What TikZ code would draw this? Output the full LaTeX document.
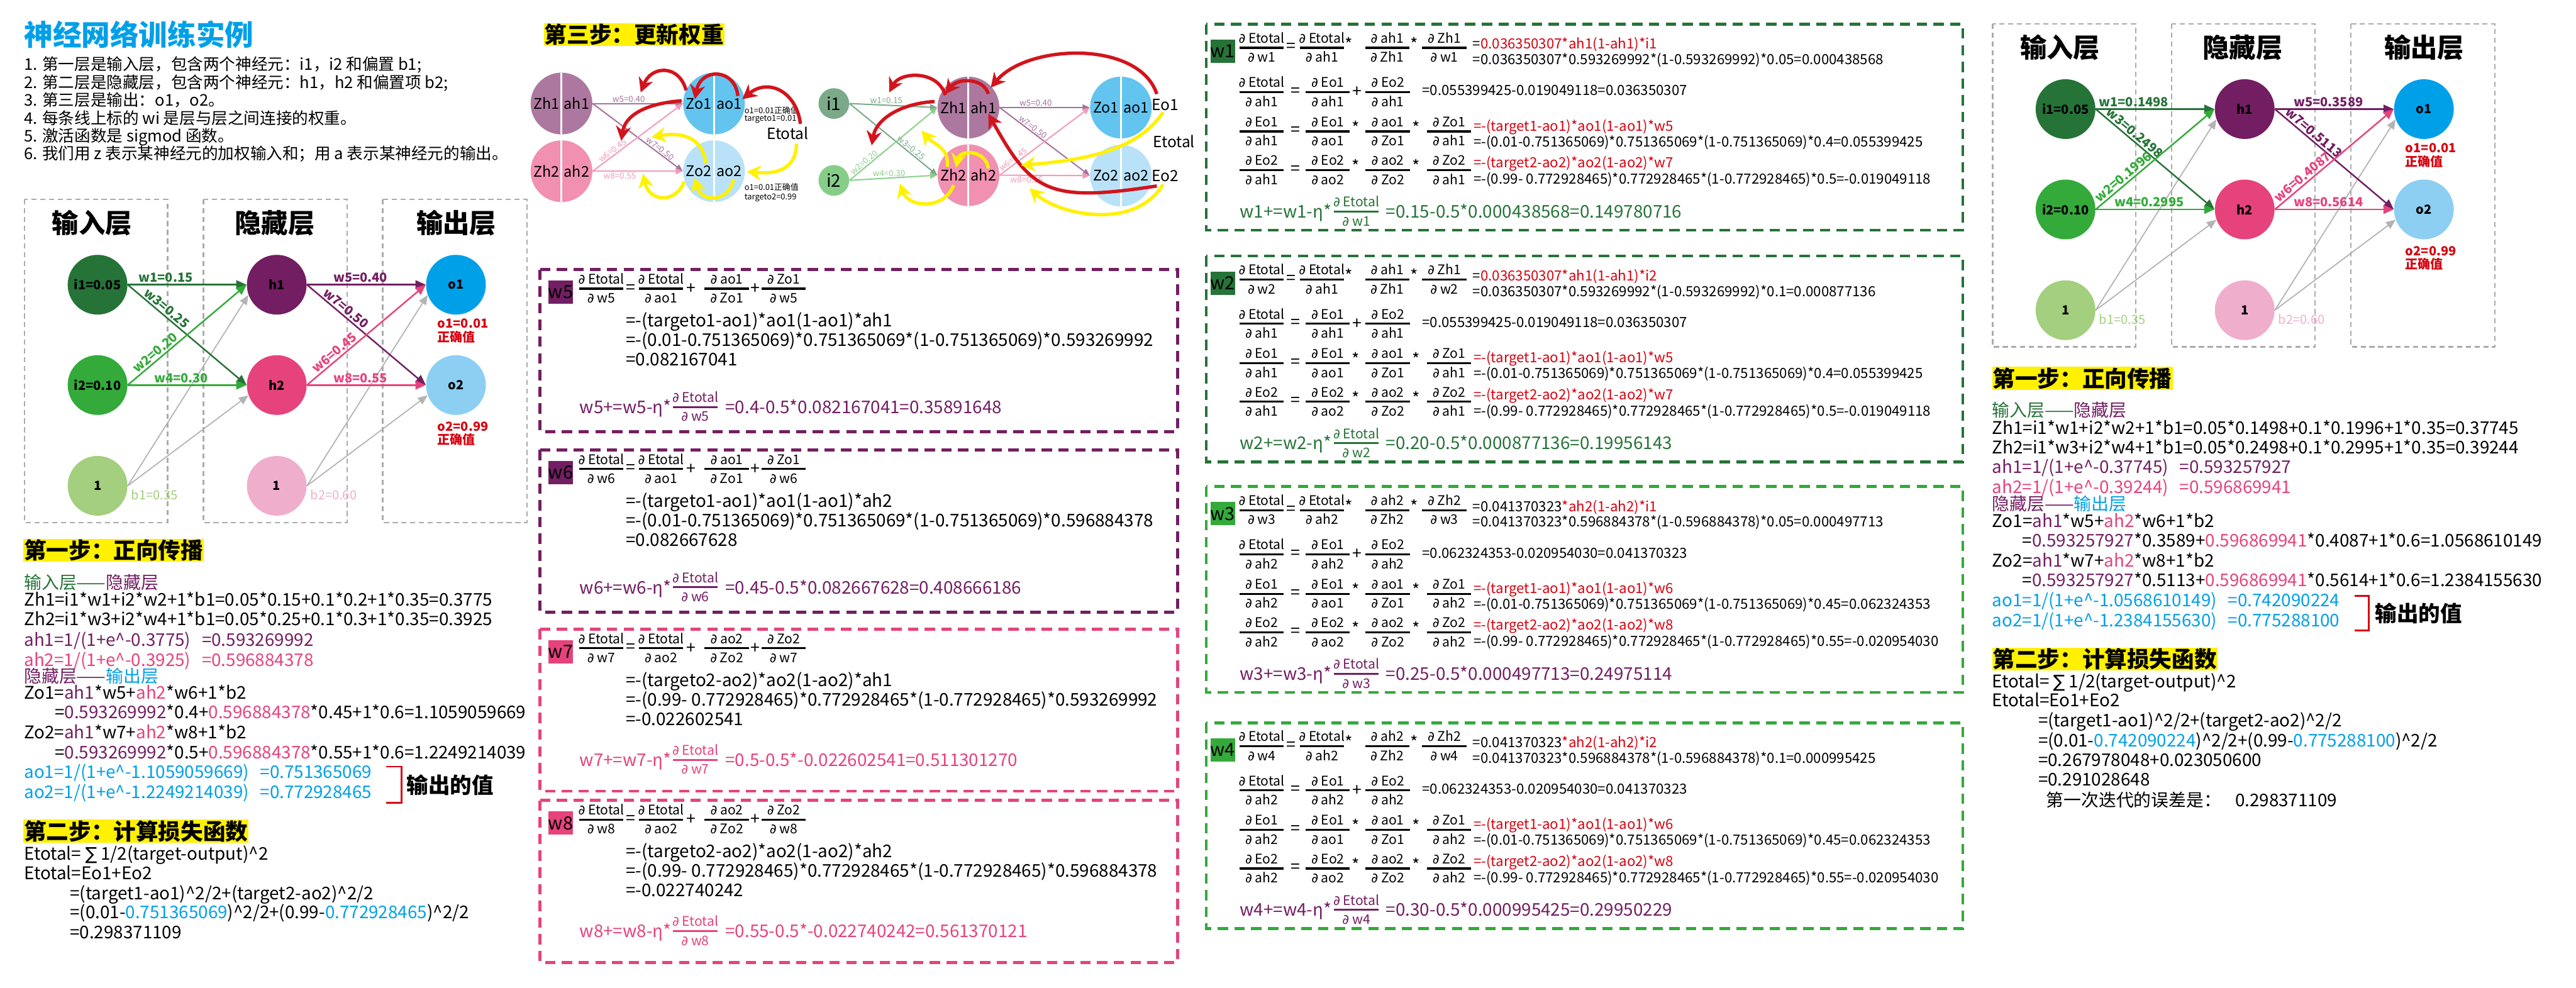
\documentclass[tikz,border=0pt]{standalone}
\usepackage{fontspec}
\setmainfont{Noto Sans CJK SC}
\newfontfamily\djvfont{DejaVu Sans}
\usetikzlibrary{arrows.meta,calc,positioning}

\definecolor{ink}{HTML}{000000}
\definecolor{titleBlue}{HTML}{00A0E9}
\definecolor{inDark}{HTML}{267338}
\definecolor{inGreen}{HTML}{33AA3A}
\definecolor{biasGreen}{HTML}{A3CF7E}
\definecolor{hidPurple}{HTML}{731E62}
\definecolor{hidPink}{HTML}{E6437D}
\definecolor{biasPink}{HTML}{F0AECD}
\definecolor{outBlue}{HTML}{00A0E9}
\definecolor{outSky}{HTML}{8CCFF3}
\definecolor{truthRed}{HTML}{D7000F}
\definecolor{markYellow}{HTML}{FFF100}
\definecolor{boxGray}{HTML}{ABABAB}
\definecolor{biasLine}{HTML}{B3B3B3}
\definecolor{softZh1}{HTML}{AD789F}
\definecolor{softZh2}{HTML}{F190B1}
\definecolor{softZo1}{HTML}{63C4F0}
\definecolor{softZo2}{HTML}{B9E2F8}
\definecolor{softI1}{HTML}{7BAA88}
\definecolor{softI2}{HTML}{86CE88}
\definecolor{edgePurple}{HTML}{A5739B}
\definecolor{edgePink}{HTML}{F39ABB}
\definecolor{edgeGreen}{HTML}{7BAA88}
\definecolor{edgeLime}{HTML}{8DCF8D}
\definecolor{arrowRed}{HTML}{D2141C}
\definecolor{arrowYellow}{HTML}{FFF100}

\newcommand{\pdsym}{{\djvfont ∂}}
\newcommand{\sumsym}{{\djvfont ∑}}
\newcommand{\upcaret}{\textasciicircum}
\newcommand{\pur}[1]{{\color{hidPurple}#1}}
\newcommand{\pnk}[1]{{\color{hidPink}#1}}
\newcommand{\blu}[1]{{\color{outBlue}#1}}
\newcommand{\grn}[1]{{\color{inDark}#1}}
\newcommand{\redt}[1]{{\color{truthRed}#1}}

% partial derivative: [colour]{name}{centre of bar}{numerator}{denominator}
\newcommand{\pfrac}[5][ink]{%
  \draw[fracbar, draw=#1] (#3) ++(-0.555,0) -- ++(1.11,0);
  \path (#3) ++(0,-0.12) node[fractext, text=#1] (#2n) {\pdsym\ #4};
  \path (#3) ++(0,0.36) node[fractext, text=#1] (#2d) {\pdsym\ #5};}

% 2-2-2 network: prefix, then w1 ... w8 labels
\newcommand{\nnet}[9]{%
  \draw[layerbox] (0.62,5.01) rectangle (4.21,13.12);
  \draw[layerbox] (5.11,5.01) rectangle (8.72,13.12);
  \draw[layerbox] (9.61,5.01) rectangle (13.23,13.12);
  \node[layertitle] (#1tin) at (2.31,5.60) {输入层};
  \node[layertitle] (#1thid) at (6.90,5.60) {隐藏层};
  \node[layertitle] (#1tout) at (11.46,5.60) {输出层};
  \node[neuron, fill=inDark] (#1i1) at (2.45,7.15) {i1=0.05};
  \node[neuron, fill=inGreen] (#1i2) at (2.45,9.67) {i2=0.10};
  \node[neuron, fill=biasGreen] (#1b1) at (2.45,12.20) {1};
  \node[neuron, fill=hidPurple] (#1h1) at (6.95,7.15) {h1};
  \node[neuron, fill=hidPink] (#1h2) at (6.95,9.67) {h2};
  \node[neuron, fill=biasPink] (#1b2) at (6.95,12.20) {1};
  \node[neuron, fill=outBlue] (#1o1) at (11.45,7.15) {o1};
  \node[neuron, fill=outSky] (#1o2) at (11.45,9.67) {o2};
  \draw[biasedge] (#1b1.east) -- (#1h1.200);
  \draw[biasedge] (#1b1.east) -- (#1h2.200);
  \draw[biasedge] (#1b2.east) -- (#1o1.200);
  \draw[biasedge] (#1b2.east) -- (#1o2.200);
  \draw[synapse, draw=inDark] (#1i1.east) -- node[wlabel, text=inDark, above, pos=0.32] {#2} (#1h1.west);
  \draw[synapse, draw=inDark] (#1i1.east) -- node[wlabel, text=inDark, sloped, above, pos=0.29] {#4} (#1h2.west);
  \draw[synapse, draw=inGreen] (#1i2.east) -- node[wlabel, text=inGreen, sloped, above, pos=0.27] {#3} (#1h1.west);
  \draw[synapse, draw=inGreen] (#1i2.east) -- node[wlabel, text=inGreen, above, pos=0.45] {#5} (#1h2.west);
  \draw[synapse, draw=hidPurple] (#1h1.east) -- node[wlabel, text=hidPurple, above, pos=0.45] {#6} (#1o1.west);
  \draw[synapse, draw=hidPurple] (#1h1.east) -- node[wlabel, text=hidPurple, sloped, above, pos=0.29] {#8} (#1o2.west);
  \draw[synapse, draw=hidPink] (#1h2.east) -- node[wlabel, text=hidPink, sloped, above, pos=0.27] {#7} (#1o1.west);
  \draw[synapse, draw=hidPink] (#1h2.east) -- node[wlabel, text=hidPink, above, pos=0.45] {#9} (#1o2.west);
  \node[wlabel, anchor=west, inner sep=0pt, text=biasGreen, font=\fontsize{9}{10}\selectfont] (#1lb1) at (3.29,12.42) {b1=0.35};
  \node[wlabel, anchor=west, inner sep=0pt, text=biasPink, font=\fontsize{9}{10}\selectfont] (#1lb2) at (7.79,12.42) {b2=0.60};
  \node[truthlabel] (#1t1) at (10.98,8.12) {o1=0.01};
  \node[truthlabel] (#1t1b) at (10.98,8.46) {正确值};
  \node[truthlabel] (#1t2) at (10.98,10.71) {o2=0.99};
  \node[truthlabel] (#1t2b) at (10.98,11.04) {正确值};}

% gradient box for an output weight: key, top, colour, ao, Zo, three chain lines, update
\newcommand{\gradbox}[9]{%
  \begin{scope}[shift={(0,#2)}]
    \draw[wframe, draw=#3] (13.56,0) rectangle (29.57,4.07);
    \node[wtag, fill=#3] (#1tag) at (14.08,0.57) {#1};
    \pfrac{#1fa}{15.10,0.48}{Etotal}{#1}
    \node[optext] (#1eq) at (15.84,0.48) {=};
    \pfrac{#1fb}{16.60,0.48}{Etotal}{#4}
    \node[optext] (#1pa) at (17.36,0.48) {+};
    \pfrac{#1fc}{18.25,0.48}{#4}{#5}
    \node[optext] (#1pb) at (18.97,0.48) {+};
    \pfrac{#1fd}{19.68,0.48}{#5}{#1}
    \node[bodytext] (#1la) at (15.71,1.44) {#6};
    \node[bodytext] (#1lb) at (15.71,1.93) {#7};
    \node[bodytext] (#1lc) at (15.71,2.42) {#8};
    \node[bodytext, text=#3] (#1ua) at (14.55,\updrow+0.16) {#1+=#1-η*};
    \pfrac[#3]{#1fu}{17.46,\updrow}{Etotal}{#1}
    \node[bodytext, text=#3] (#1ub) at (18.21,\updrow+0.16) {#9};
  \end{scope}}

% gradient box for an input weight: key, top, tag colour, update colour, ah, Zh, two lines, update
\newcommand{\hidgradbox}[9]{%
  \begin{scope}[shift={(0,#2)}]
    \draw[wframe, draw=#3] (30.29,0) rectangle (49.29,5.17);
    \node[wtag, fill=#3] (#1tag) at (30.705,0.68) {#1};
    \pfrac{#1ra}{31.685,0.59}{Etotal}{#1}
    \node[optext] (#1rq) at (32.43,0.59) {=};
    \pfrac{#1rb}{33.195,0.59}{Etotal}{#5}
    \node[optext] (#1rs) at (33.88,0.49) {*};
    \pfrac{#1rc}{34.835,0.59}{#5}{#6}
    \node[optext] (#1rt) at (35.51,0.49) {*};
    \pfrac{#1rd}{36.27,0.59}{#6}{#1}
    \node[smalltext] (#1rx) at (36.98,0.62) {#7};
    \node[smalltext] (#1ry) at (36.98,1.01) {#8};
    \pfrac{#1sa}{31.685,1.70}{Etotal}{#5}
    \node[optext] (#1sq) at (32.53,1.70) {=};
    \pfrac{#1sb}{33.345,1.70}{Eo1}{#5}
    \node[optext] (#1sp) at (34.08,1.70) {+};
    \pfrac{#1sc}{34.85,1.70}{Eo2}{#5}
    \node[smalltext] (#1sx) at (35.71,1.79) {\chainsum};
    \pfrac{#1ta}{31.685,2.69}{Eo1}{#5}
    \node[optext] (#1tq) at (32.53,2.69) {=};
    \pfrac{#1tb}{33.345,2.69}{Eo1}{ao1}
    \node[optext] (#1ts) at (34.04,2.59) {*};
    \pfrac{#1tc}{34.85,2.69}{ao1}{Zo1}
    \node[optext] (#1tt) at (35.56,2.59) {*};
    \pfrac{#1td}{36.39,2.69}{Zo1}{#5}
    \node[smalltext, text=truthRed] (#1tx) at (37.00,2.68) {\chainoa};
    \node[smalltext] (#1ty) at (37.00,3.07) {\chainob};
    \pfrac{#1ua}{31.685,3.66}{Eo2}{#5}
    \node[optext] (#1uq) at (32.53,3.66) {=};
    \pfrac{#1ub}{33.345,3.66}{Eo2}{ao2}
    \node[optext] (#1us) at (34.04,3.56) {*};
    \pfrac{#1uc}{34.85,3.66}{ao2}{Zo2}
    \node[optext] (#1ut) at (35.56,3.56) {*};
    \pfrac{#1ud}{36.39,3.66}{Zo2}{#5}
    \node[smalltext, text=truthRed] (#1ux) at (37.00,3.60) {\chainpa};
    \node[smalltext] (#1uy) at (37.00,4.01) {\chainpb};
    \node[bodytext, text=#4] (#1va) at (31.13,4.86) {#1+=#1-η*};
    \pfrac[#4]{#1vf}{34.06,4.70}{Etotal}{#1}
    \node[bodytext, text=#4] (#1vb) at (34.80,4.86) {#9};
  \end{scope}}

\newcommand{\chainsum}{=0.055399425-0.019049118=0.036350307}
\newcommand{\chainoa}{=-(target1-ao1)*ao1(1-ao1)*w5}
\newcommand{\chainob}{=-(0.01-0.751365069)*0.751365069*(1-0.751365069)*0.4=0.055399425}
\newcommand{\chainpa}{=-(target2-ao2)*ao2(1-ao2)*w7}
\newcommand{\chainpb}{=-(0.99- 0.772928465)*0.772928465*(1-0.772928465)*0.5=-0.019049118}

\begin{document}
\begin{tikzpicture}[
    x=1cm, y=-1cm,
    bodytext/.style={anchor=base west, inner sep=0pt, font=\fontsize{12.5}{15}\selectfont},
    smalltext/.style={anchor=base west, inner sep=0pt, font=\fontsize{10}{12}\selectfont},
    listtext/.style={anchor=base west, inner sep=0pt, font=\fontsize{11.5}{13}\selectfont},
    fractext/.style={anchor=base, inner sep=0pt, font=\fontsize{9.5}{11}\selectfont},
    optext/.style={inner sep=0pt, font=\fontsize{12}{14}\selectfont},
    steptag/.style={anchor=west, fill=markYellow, inner sep=0.5pt, font=\fontsize{16}{18}\selectfont\bfseries},
    layertitle/.style={inner sep=0pt, font=\fontsize{19}{22}\selectfont\bfseries},
    neuron/.style={circle, minimum size=1.50cm, inner sep=0pt, font=\fontsize{9}{10}\selectfont\bfseries},
    wlabel/.style={inner sep=1.2pt, font=\fontsize{9}{10}\selectfont\bfseries},
    truthlabel/.style={anchor=west, inner sep=0pt, text=truthRed, font=\fontsize{9}{10}\selectfont\bfseries},
    synapse/.style={line width=1.1pt, -{Triangle[length=2.6mm,width=2.2mm]}},
    biasedge/.style={draw=biasLine, line width=0.8pt, -{Triangle[length=2.4mm,width=2mm]}},
    layerbox/.style={draw=boxGray, line width=1pt, dash pattern=on 1.3mm off 0.9mm},
    wframe/.style={line width=2.1pt, dash pattern=on 2.6mm off 1.6mm},
    wtag/.style={minimum width=0.48cm, minimum height=0.58cm, inner sep=0pt, font=\fontsize{13}{14}\selectfont},
    fracbar/.style={line width=1.4pt},
    outbrace/.style={draw=truthRed, line width=1.2pt},
    outnote/.style={anchor=west, inner sep=0pt, font=\fontsize{15.5}{17}\selectfont\bfseries},
    splitnode/.style={circle, minimum size=1.55cm, inner sep=0pt, font=\fontsize{10.5}{12}\selectfont,
        path picture={\draw[white, line width=1.3pt] (path picture bounding box.north) -- (path picture bounding box.south);}},
    inputdot/.style={circle, minimum size=0.77cm, inner sep=0pt, font=\fontsize{12.5}{14}\selectfont},
    stepedge/.style={line width=0.9pt, -{Triangle[length=1.8mm,width=1.5mm]}},
    tinylabel/.style={inner sep=0.6pt, font=\fontsize{6}{7}\selectfont},
    notetext/.style={anchor=west, inner sep=0pt, font=\fontsize{5.8}{6.5}\selectfont},
    errtext/.style={inner sep=0pt, font=\fontsize{11}{13}\selectfont},
    redarrow/.style={draw=arrowRed, line width=2.4pt, -{Stealth[length=3.6mm,width=3.8mm]}},
    yellowarrow/.style={draw=arrowYellow, line width=2.4pt, -{Stealth[length=3.6mm,width=3.8mm]}}
]
\path[fill=white] (0,0) rectangle (64.69,24.80);
\useasboundingbox (0,0) rectangle (64.69,24.80);

% Left column: title, notes, network and forward pass.
\node[anchor=west, inner sep=0pt, text=titleBlue, font=\fontsize{20.5}{24}\selectfont\bfseries] (title) at (0.60,0.86) {神经网络训练实例};
\foreach \txt [count=\k] in {
    {1. 第一层是输入层，包含两个神经元：i1，i2 和偏置 b1;},
    {2. 第二层是隐藏层，包含两个神经元：h1，h2 和偏置项 b2;},
    {3. 第三层是输出：o1，o2。},
    {4. 每条线上标的 wi 是层与层之间连接的权重。},
    {5. 激活函数是 sigmod 函数。},
    {6. 我们用 z 表示某神经元的加权输入和；用 a 表示某神经元的输出。}}
    \node[listtext] (item\k) at (0.60,{1.32+0.448*\k}) {\txt};

\nnet{L}{w1=0.15}{w2=0.20}{w3=0.25}{w4=0.30}{w5=0.40}{w6=0.45}{w7=0.50}{w8=0.55}

\node[steptag] (stepOneL) at (0.58,13.82) {第一步：正向传播};
\foreach \yy/\txt [count=\k] in {
    14.79/{\grn{输入层——}\pur{隐藏层}},
    15.21/{Zh1=i1*w1+i2*w2+1*b1=0.05*0.15+0.1*0.2+1*0.35=0.3775},
    15.71/{Zh2=i1*w3+i2*w4+1*b1=0.05*0.25+0.1*0.3+1*0.35=0.3925},
    16.23/{\pur{ah1=1/(1+e\upcaret-0.3775)\hspace{0.28cm}=0.593269992}},
    16.73/{\pnk{ah2=1/(1+e\upcaret-0.3925)\hspace{0.28cm}=0.596884378}},
    17.15/{\pur{隐藏层——}\blu{输出层}},
    17.56/{Zo1=\pur{ah1}*w5+\pnk{ah2}*w6+1*b2},
    18.05/{\hspace*{0.77cm}=\pur{0.593269992}*0.4+\pnk{0.596884378}*0.45+1*0.6=1.1059059669},
    18.55/{Zo2=\pur{ah1}*w7+\pnk{ah2}*w8+1*b2},
    19.05/{\hspace*{0.77cm}=\pur{0.593269992}*0.5+\pnk{0.596884378}*0.55+1*0.6=1.2249214039},
    19.55/{\blu{ao1=1/(1+e\upcaret-1.1059059669)\hspace{0.28cm}=0.751365069}},
    20.05/{\blu{ao2=1/(1+e\upcaret-1.2249214039)\hspace{0.28cm}=0.772928465}}}
    \node[bodytext] (fwdL\k) at (0.60,\yy) {\txt};
\draw[outbrace] (9.70,19.25) -- (10.08,19.25) -- (10.08,20.16) -- (9.70,20.16);
\node[outnote] (outL) at (10.21,19.72) {输出的值};

\node[steptag] (stepTwoL) at (0.58,20.87) {第二步：计算损失函数};
\foreach \yy/\txt [count=\k] in {
    21.59/{Etotal= \sumsym{} 1/2(target-output)\upcaret2},
    22.09/{Etotal=Eo1+Eo2},
    22.59/{\hspace*{1.15cm}=(target1-ao1)\upcaret2/2+(target2-ao2)\upcaret2/2},
    23.07/{\hspace*{1.15cm}=(0.01-\blu{0.751365069})\upcaret2/2+(0.99-\blu{0.772928465})\upcaret2/2},
    23.57/{\hspace*{1.15cm}=0.298371109}}
    \node[bodytext] (lossL\k) at (0.60,\yy) {\txt};

% Step 3 sketches: error flowing back.
\node[steptag] (stepThree) at (13.65,0.87) {第三步：更新权重};
\node[splitnode, fill=softZh1] (sZh1) at (14.10,2.60) {\makebox[0.76cm]{Zh1}\makebox[0.76cm]{ah1}};
\node[splitnode, fill=softZh2] (sZh2) at (14.10,4.30) {\makebox[0.76cm]{Zh2}\makebox[0.76cm]{ah2}};
\node[splitnode, fill=softZo1] (sZo1) at (17.93,2.60) {\makebox[0.76cm]{Zo1}\makebox[0.76cm]{ao1}};
\node[splitnode, fill=softZo2] (sZo2) at (17.93,4.30) {\makebox[0.76cm]{Zo2}\makebox[0.76cm]{ao2}};
\draw[stepedge, draw=edgePurple] (sZh1.east) -- node[tinylabel, text=edgePurple, above, pos=0.40] (lw5) {w5=0.40} (sZo1.west);
\draw[stepedge, draw=edgePurple] (sZh1.east) -- node[tinylabel, text=edgePurple, sloped, above, pos=0.72] (lw7) {w7=0.50} (sZo2.west);
\draw[stepedge, draw=edgePink] (sZh2.east) -- node[tinylabel, text=edgePink, sloped, above, pos=0.25] (lw6) {w6=0.45} (sZo1.west);
\draw[stepedge, draw=edgePink] (sZh2.east) -- node[tinylabel, text=edgePink, below, pos=0.30] (lw8) {w8=0.55} (sZo2.west);
\node[notetext] (lnoteA) at (18.69,2.77) {o1=0.01正确值};
\node[notetext] (lnoteB) at (18.69,2.99) {targeto1=0.01};
\node[notetext] (lnoteC) at (18.69,4.70) {o1=0.01正确值};
\node[notetext] (lnoteD) at (18.69,4.96) {targeto2=0.99};
\node[errtext] (lEtot) at (19.78,3.34) {Etotal};

\node[inputdot, fill=softI1] (ti1) at (20.94,2.60) {i1};
\node[inputdot, fill=softI2] (ti2) at (20.94,4.53) {i2};
\node[splitnode, fill=softZh1] (tZh1) at (24.32,2.70) {\makebox[0.76cm]{Zh1}\makebox[0.76cm]{ah1}};
\node[splitnode, fill=softZh2] (tZh2) at (24.32,4.40) {\makebox[0.76cm]{Zh2}\makebox[0.76cm]{ah2}};
\node[splitnode, fill=softZo1] (tZo1) at (28.15,2.70) {\makebox[0.76cm]{Zo1}\makebox[0.76cm]{ao1}};
\node[splitnode, fill=softZo2] (tZo2) at (28.15,4.41) {\makebox[0.76cm]{Zo2}\makebox[0.76cm]{ao2}};
\draw[stepedge, draw=edgeGreen] (ti1.east) -- node[tinylabel, text=edgeGreen, above, pos=0.42] (rw1) {w1=0.15} (tZh1.west);
\draw[stepedge, draw=edgeGreen] (ti1.east) -- node[tinylabel, text=edgeGreen, sloped, above, pos=0.67] (rw3) {w3=0.25} (tZh2.west);
\draw[stepedge, draw=edgeLime] (ti2.east) -- node[tinylabel, text=edgeLime, sloped, above, pos=0.20] (rw2) {w2=0.20} (tZh1.west);
\draw[stepedge, draw=edgeLime] (ti2.east) -- node[tinylabel, text=edgeLime, above, pos=0.45] (rw4) {w4=0.30} (tZh2.west);
\draw[stepedge, draw=edgePurple] (tZh1.east) -- node[tinylabel, text=edgePurple, above, pos=0.40] (rw5) {w5=0.40} (tZo1.west);
\draw[stepedge, draw=edgePurple] (tZh1.east) -- node[tinylabel, text=edgePurple, sloped, above, pos=0.34] (rw7) {w7=0.50} (tZo2.west);
\draw[stepedge, draw=edgePink] (tZh2.east) -- node[tinylabel, text=edgePink, sloped, above, pos=0.18] (rw6) {w6=0.45} (tZo1.west);
\draw[stepedge, draw=edgePink] (tZh2.east) -- node[tinylabel, text=edgePink, below, pos=0.30] (rw8) {w8=0.55} (tZo2.west);
\node[errtext] (rEo1) at (29.26,2.63) {Eo1};
\node[errtext] (rEo2) at (29.26,4.42) {Eo2};
\node[errtext] (rEtot) at (29.48,3.55) {Etotal};

\draw[redarrow] ($(lEtot)+(0.32,-0.23)$) .. controls +(-0.10,-0.81) and +(0.66,-0.54) .. ($(sZo1)+(0.71,-0.11)$);
\draw[redarrow] ($(sZo1)+(0.60,-0.19)$) .. controls +(-0.08,-0.71) and +(0.15,-0.79) .. ($(sZo1)+(-0.48,-0.11)$);
\draw[redarrow] ($(sZo1)+(-0.70,-0.33)$) .. controls +(-0.18,-0.67) and +(0.26,-0.67) .. ($(sZh1)+(1.99,-0.28)$);
\draw[redarrow] ($(sZo1)+(-0.81,-0.07)$) .. controls +(-0.92,0.07) and +(0.10,-0.63) .. ($(sZh1)+(1.50,0.93)$);
\draw[yellowarrow] ($(lEtot)+(0.22,0.27)$) .. controls +(0,0.49) and +(0.95,0.09) .. ($(sZo2)+(0.82,0.01)$);
\draw[yellowarrow] ($(sZo2)+(-0.21,-0.21)$) .. controls +(-0.07,-0.59) and +(0.84,-0.14) .. ($(sZh1)+(2.26,0.84)$);
\draw[yellowarrow] ($(sZo2)+(0.49,0.20)$) .. controls +(-0.12,0.60) and +(0.15,0.64) .. ($(sZo2)+(-0.48,0.16)$);
\draw[yellowarrow] ($(sZo2)+(-0.75,0.26)$) .. controls +(-0.18,0.54) and +(0.15,0.74) .. ($(sZh2)+(2.05,0.06)$);

\draw[redarrow] ($(rEo1)+(-0.21,-0.27)$) .. controls +(-0.45,-1.36) and +(0.92,-1.10) .. ($(tZh1)+(0.56,-0.50)$);
\draw[redarrow] ($(tZh1)+(0.50,-0.34)$) .. controls +(-0.12,-0.41) and +(0.31,-0.41) .. ($(tZh1)+(-0.58,-0.34)$);
\draw[redarrow] ($(tZh1)+(-0.58,-0.31)$) .. controls +(-0.19,-0.64) and +(0.27,-0.52) .. ($(ti1)+(1.39,-0.28)$);
\draw[redarrow] ($(tZh1)+(-0.85,-0.15)$) .. controls +(-0.87,0.05) and +(0.11,-0.65) .. ($(ti1)+(0.95,1.05)$);
\draw[redarrow] ($(rEo2)+(-0.21,0.25)$) .. controls +(-2.75,0.43) and +(1.08,1.94) .. ($(tZh1)+(0.50,0.16)$);
\draw[yellowarrow] ($(rEo1)+(-0.05,0.19)$) .. controls +(-0.61,0.88) and +(1.86,-0.15) .. ($(tZh2)+(1.32,-0.25)$);
\draw[yellowarrow] ($(rEo2)+(-0.05,0.21)$) .. controls +(-0.71,1.17) and +(0.75,0.67) .. ($(tZh2)+(1.53,0.33)$);
\draw[yellowarrow] ($(tZh2)+(-0.53,-0.21)$) .. controls +(0.05,-0.50) and +(0.30,0.35) .. ($(ti1)+(2.20,0.68)$);
\draw[yellowarrow] ($(tZh2)+(0.50,-0.17)$) .. controls +(-0.07,-0.48) and +(0.09,-0.46) .. ($(tZh2)+(-0.31,-0.19)$);
\draw[yellowarrow] ($(tZh2)+(-0.37,0.25)$) .. controls +(-0.25,0.65) and +(0.20,0.59) .. ($(ti2)+(1.66,0.08)$);

% Gradients of the hidden-to-output weights.
\def\updrow{3.45}
\gradbox{w5}{6.77}{hidPurple}{ao1}{Zo1}{=-(targeto1-ao1)*ao1(1-ao1)*ah1}{=-(0.01-0.751365069)*0.751365069*(1-0.751365069)*0.593269992}{=0.082167041}{=0.4-0.5*0.082167041=0.35891648}
\gradbox{w6}{11.30}{hidPurple}{ao1}{Zo1}{=-(targeto1-ao1)*ao1(1-ao1)*ah2}{=-(0.01-0.751365069)*0.751365069*(1-0.751365069)*0.596884378}{=0.082667628}{=0.45-0.5*0.082667628=0.408666186}
\def\updrow{3.28}
\gradbox{w7}{15.80}{hidPink}{ao2}{Zo2}{=-(targeto2-ao2)*ao2(1-ao2)*ah1}{=-(0.99- 0.772928465)*0.772928465*(1-0.772928465)*0.593269992}{=-0.022602541}{=0.5-0.5*-0.022602541=0.511301270}
\gradbox{w8}{20.10}{hidPink}{ao2}{Zo2}{=-(targeto2-ao2)*ao2(1-ao2)*ah2}{=-(0.99- 0.772928465)*0.772928465*(1-0.772928465)*0.596884378}{=-0.022740242}{=0.55-0.5*-0.022740242=0.561370121}

% Gradients of the input-to-hidden weights.
\hidgradbox{w1}{0.61}{inDark}{inDark}{ah1}{Zh1}{=\redt{0.036350307*ah1(1-ah1)*i1}}{=0.036350307*0.593269992*(1-0.593269992)*0.05=0.000438568}{=0.15-0.5*0.000438568=0.149780716}
\hidgradbox{w2}{6.43}{inDark}{inDark}{ah1}{Zh1}{=\redt{0.036350307*ah1(1-ah1)*i2}}{=0.036350307*0.593269992*(1-0.593269992)*0.1=0.000877136}{=0.20-0.5*0.000877136=0.19956143}
\renewcommand{\chainsum}{=0.062324353-0.020954030=0.041370323}
\renewcommand{\chainoa}{=-(target1-ao1)*ao1(1-ao1)*w6}
\renewcommand{\chainob}{=-(0.01-0.751365069)*0.751365069*(1-0.751365069)*0.45=0.062324353}
\renewcommand{\chainpa}{=-(target2-ao2)*ao2(1-ao2)*w8}
\renewcommand{\chainpb}{=-(0.99- 0.772928465)*0.772928465*(1-0.772928465)*0.55=-0.020954030}
\hidgradbox{w3}{12.22}{inGreen}{hidPurple}{ah2}{Zh2}{=0.041370323\redt{*ah2(1-ah2)*i1}}{=0.041370323*0.596884378*(1-0.596884378)*0.05=0.000497713}{=0.25-0.5*0.000497713=0.24975114}
\hidgradbox{w4}{18.15}{inGreen}{hidPurple}{ah2}{Zh2}{=0.041370323\redt{*ah2(1-ah2)*i2}}{=0.041370323*0.596884378*(1-0.596884378)*0.1=0.000995425}{=0.30-0.5*0.000995425=0.29950229}

% Right column: network after one update and the second forward pass.
\begin{scope}[shift={(49.42,-4.41)}]
\nnet{R}{w1=0.1498}{w2=0.1996}{w3=0.2498}{w4=0.2995}{w5=0.3589}{w6=0.4087}{w7=0.5113}{w8=0.5614}
\end{scope}

\node[steptag] (stepOneR) at (50.02,9.50) {第一步：正向传播};
\foreach \yy/\txt [count=\k] in {
    10.47/{\grn{输入层——}\pur{隐藏层}},
    10.90/{Zh1=i1*w1+i2*w2+1*b1=0.05*0.1498+0.1*0.1996+1*0.35=0.37745},
    11.39/{Zh2=i1*w3+i2*w4+1*b1=0.05*0.2498+0.1*0.2995+1*0.35=0.39244},
    11.89/{\pur{ah1=1/(1+e\upcaret-0.37745)\hspace{0.28cm}=0.593257927}},
    12.39/{\pnk{ah2=1/(1+e\upcaret-0.39244)\hspace{0.28cm}=0.596869941}},
    12.82/{\pur{隐藏层——}\blu{输出层}},
    13.25/{Zo1=\pur{ah1}*w5+\pnk{ah2}*w6+1*b2},
    13.73/{\hspace*{0.76cm}=\pur{0.593257927}*0.3589+\pnk{0.596869941}*0.4087+1*0.6=1.0568610149},
    14.23/{Zo2=\pur{ah1}*w7+\pnk{ah2}*w8+1*b2},
    14.73/{\hspace*{0.76cm}=\pur{0.593257927}*0.5113+\pnk{0.596869941}*0.5614+1*0.6=1.2384155630},
    15.24/{\blu{ao1=1/(1+e\upcaret-1.0568610149)\hspace{0.28cm}=0.742090224}},
    15.74/{\blu{ao2=1/(1+e\upcaret-1.2384155630)\hspace{0.28cm}=0.775288100}}}
    \node[bodytext] (fwdR\k) at (50.02,\yy) {\txt};
\draw[outbrace] (59.13,14.96) -- (59.49,14.96) -- (59.49,15.83) -- (59.13,15.83);
\node[outnote] (outR) at (59.64,15.41) {输出的值};

\node[steptag] (stepTwoR) at (50.02,16.55) {第二步：计算损失函数};
\foreach \yy/\txt [count=\k] in {
    17.27/{Etotal= \sumsym{} 1/2(target-output)\upcaret2},
    17.75/{Etotal=Eo1+Eo2},
    18.25/{\hspace*{1.16cm}=(target1-ao1)\upcaret2/2+(target2-ao2)\upcaret2/2},
    18.75/{\hspace*{1.16cm}=(0.01-\blu{0.742090224})\upcaret2/2+(0.99-\blu{0.775288100})\upcaret2/2},
    19.25/{\hspace*{1.16cm}=0.267978048+0.023050600},
    19.74/{\hspace*{1.16cm}=0.291028648},
    20.26/{\hspace*{1.36cm}第一次迭代的误差是：\hspace{0.35cm}0.298371109}}
    \node[bodytext] (lossR\k) at (50.02,\yy) {\txt};

\end{tikzpicture}
\end{document}
